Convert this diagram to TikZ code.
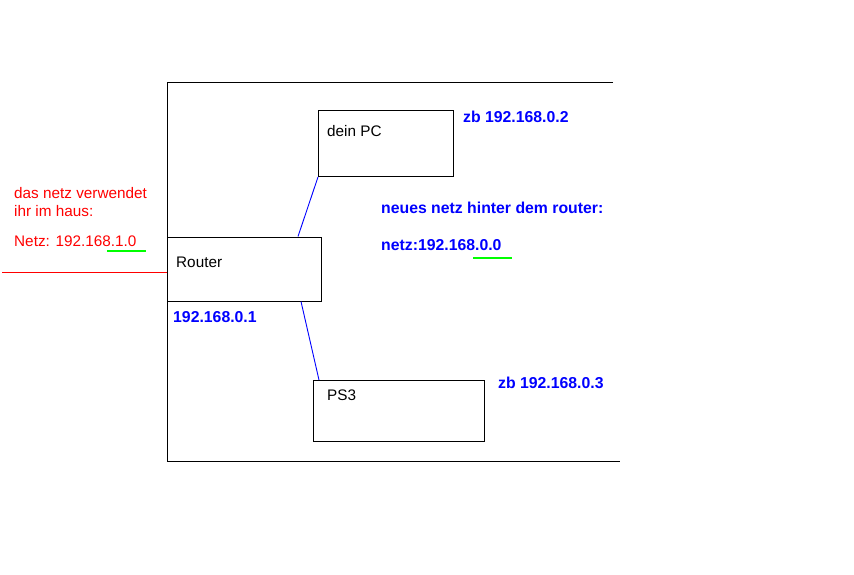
\documentclass[tikz,border=0pt]{standalone}
\usepackage{fontspec}
\setmainfont{Liberation Sans}
\usetikzlibrary{calc}
\definecolor{pblue}{RGB}{0,0,255}
\definecolor{pred}{RGB}{255,0,0}
\definecolor{pgreen}{RGB}{0,255,0}
\tikzset{
  devbox/.style={draw=black, line width=1pt, minimum width=#1, inner sep=0pt, anchor=north west},
  lbl/.style={inner sep=0pt, anchor=base west, font=\fontsize{15.3}{18}\selectfont},
  bluelbl/.style={lbl, text=pblue, font=\fontsize{15.8}{18}\selectfont\bfseries},
  redlbl/.style={lbl, text=pred},
  link/.style={draw=pblue, line width=0.9pt},
  frame/.style={draw=black, line width=1pt},
  uline/.style={draw=pgreen, line width=2pt}
}
\begin{document}
\begin{tikzpicture}[x=1pt,y=-1pt]
\useasboundingbox (0,0) rectangle (854,575);
% frame of the new network
\draw[frame] (613,83) -- (167,83) -- (167,461) -- (620,461);
% red uplink line
\coordinate (up) at (2,272);
\draw[draw=pred, line width=1pt] (up) -- (167,272);
% boxes
\node[devbox=154pt, minimum height=64pt] (router) at (166.5,236.5) {};
\node[devbox=135pt, minimum height=66pt] (pc) at (318,110) {};
\node[devbox=171pt, minimum height=61pt] (ps3) at (313,380) {};
% box texts
\node[lbl] (trouter) at (176,267) {Router};
\node[lbl] (tpc) at (327,137) {dein PC};
\node[lbl] (tps3) at (327,400) {PS3};
% connectors
\draw[link] ($(router.north west)+(131.5,0)$) -- ($(pc.south west)+(0,0)$);
\draw[link] ($(router.south west)+(134.5,0)$) -- ($(ps3.north west)+(6,0)$);
% blue labels
\node[bluelbl] (ippc) at (463,123) {zb 192.168.0.2};
\node[bluelbl] (neu) at (381,213) {neues netz hinter dem router:};
\node[bluelbl] (netz) at (381,250) {netz:192.168.0.0};
\node[bluelbl] (iprouter) at (173,322) {192.168.0.1};
\node[bluelbl] (ipps3) at (498,388) {zb 192.168.0.3};
% red labels
\node[redlbl] (r1) at (14,198) {das netz verwendet};
\node[redlbl] (r2) at (14,216) {ihr im haus:};
\node[redlbl] (r3) at (14,246) {Netz: 192.168.1.0};
% green underlines
\coordinate (g1a) at (107,251);
\coordinate (g1b) at (146,251);
\draw[uline] (g1a) -- (g1b);
\coordinate (g2a) at (473,258);
\coordinate (g2b) at (512,258);
\draw[uline] (g2a) -- (g2b);
\end{tikzpicture}
\end{document}
